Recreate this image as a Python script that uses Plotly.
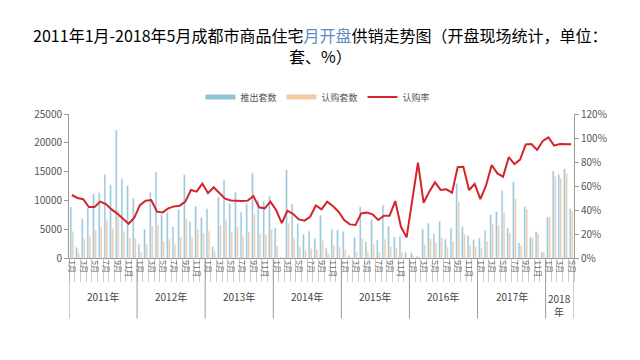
import plotly.graph_objects as go

# ---------------- data ----------------
years = ["2011年", "2012年", "2013年", "2014年", "2015年", "2016年", "2017年", "2018<br>年"]
months_per_year = [12, 12, 12, 12, 12, 12, 12, 5]

# 推出套数 (supply)
supply = [
    8850, 1800, 6850, 8700, 11150, 11330, 14500, 12700, 22200, 13750, 12550, 10400,   # 2011
    2400, 5000, 11400, 14900, 7500, 7900, 5400, 8400, 14450, 6300, 9000, 7000,        # 2012
    8570, 1950, 10570, 13560, 9430, 11430, 7990, 9430, 14710, 10000, 9830, 10690,     # 2013
    5200, 150, 15290, 9310, 5980, 4140, 4650, 3390, 7400, 1700, 5000, 4850,           # 2014
    4650, 500, 3600, 8870, 2840, 6640, 3080, 9170, 5550, 3650, 3820, 980,             # 2015
    880, 250, 5000, 6030, 4200, 6320, 3280, 5170, 12930, 5460, 3850, 3160,            # 2016
    3450, 4770, 7470, 8050, 11670, 5170, 13220, 2590, 8900, 3620, 4600, 1030,         # 2017
    7070, 15060, 14480, 15460, 8570,                                                  # 2018
]

# 认购套数 (subscribed)
subscribed = [
    4600, 900, 3300, 3700, 4800, 5300, 6500, 5100, 8200, 4600, 3500, 3400,
    1060, 2390, 5500, 5750, 2850, 3270, 2320, 3660, 6790, 3570, 4980, 4340,
    4630, 1150, 5710, 6700, 4530, 5420, 3790, 4510, 7600, 4220, 4070, 5020,
    2080, 45, 6020, 3420, 1930, 1290, 1600, 1480, 3000, 800, 2170, 1870,
    1470, 140, 990, 3300, 1070, 2420, 980, 3240, 1960, 1730, 990, 170,
    420, 200, 2300, 3330, 2650, 3580, 1880, 2810, 9770, 4150, 2180, 1950,
    1690, 2890, 5790, 5680, 7910, 4340, 10350, 2120, 8430, 3440, 4140, 1000,
    7100, 14100, 13760, 14690, 8120,
]

# 认购率 (%)
rate = [
    52.5, 50, 49, 42.5, 42.5, 47, 45, 40.5, 37, 33, 28.5, 33.5,
    44, 47.8, 48.3, 38.6, 38, 41.4, 43, 43.6, 47, 56.7, 55.3, 62,
    54, 59, 54, 49.4, 48, 47.4, 47.4, 47.8, 51.7, 42.2, 41.4, 47,
    40, 29, 39.4, 36.7, 32.2, 31.1, 34.4, 43.8, 40.5, 47, 43.3, 38.6,
    31.7, 28, 27.5, 37.2, 37.8, 36.4, 31.7, 35.3, 35.3, 47.5, 26, 17.2,
    48, 79.4, 46, 55.3, 63, 56.7, 57.2, 54.4, 75.6, 76, 56.7, 61.7,
    49, 60.5, 77.5, 70.5, 67.8, 84, 78.3, 82, 94.7, 95, 90, 97.5,
    100.5, 93.6, 95, 95, 94.7,
]

left_ticks = [0, 5000, 10000, 15000, 20000, 25000]
right_ticks = [0, 20, 40, 60, 80, 100, 120]

# ---------------- derived positions ----------------
month_num = []
for n in months_per_year:
    month_num += list(range(1, n + 1))
idx = list(range(len(month_num)))
label_idx = [i for i, m in zip(idx, month_num) if m % 2 == 1]
label_txt = [f"{month_num[i]}月" for i in label_idx]

bounds = [-0.5]
for n in months_per_year:
    bounds.append(bounds[-1] + n)
centers = [(bounds[k] + bounds[k + 1]) / 2 for k in range(len(years))]

BLUE = "#8fc4d7"
ORANGE = "#f3c9a0"
RED = "#d4242b"
GREY = "#555555"
AXIS = "#9a9a9a"
FONT = "Noto Sans CJK SC"

fig = go.Figure()
fig.add_trace(go.Bar(x=idx, y=supply, name="推出套数", marker_color=BLUE, showlegend=False))
fig.add_trace(go.Bar(x=idx, y=subscribed, name="认购套数", marker_color=ORANGE, showlegend=False))
fig.add_trace(go.Scatter(x=idx, y=rate, name="认购率", yaxis="y2", mode="lines",
                         line=dict(color=RED, width=2), showlegend=False))
# legend entries
fig.add_trace(go.Scatter(x=[None], y=[None], name="推出套数", mode="lines",
                         line=dict(color=BLUE, width=5)))
fig.add_trace(go.Scatter(x=[None], y=[None], name="认购套数", mode="lines",
                         line=dict(color=ORANGE, width=5)))
fig.add_trace(go.Scatter(x=[None], y=[None], name="认购率", mode="lines",
                         line=dict(color=RED, width=2)))

shapes = []
for b in bounds:
    shapes.append(dict(type="line", xref="x", yref="paper", x0=b, x1=b, y0=0, y1=-0.42,
                       line=dict(color=AXIS, width=1)))

annotations = []
for c, t in zip(centers, years):
    annotations.append(dict(x=c, y=-0.27, xref="x", yref="paper", text=t, showarrow=False,
                            yanchor="top" if "<br>" in t else "middle",
                            font=dict(size=10, color="#444", family=FONT)))
annotations[-1]["y"] = -0.215

fig.update_layout(
    width=640, height=360,
    margin=dict(l=61, r=74, t=106, b=110),
    paper_bgcolor="white", plot_bgcolor="white",
    font=dict(family=FONT, color=GREY),
    title=dict(
        text="2011年1月-2018年5月成都市商品住宅<span style='color:#5c8cc4'>月开盘</span>供销走势图（开盘现场统计，单位：<br>套、%）",
        x=0.488, xanchor="center", y=0.905, yanchor="top",
        font=dict(size=16, color="#000", family=FONT),
    ),
    barmode="group", bargap=0.3, bargroupgap=0.15,
    legend=dict(orientation="h", x=0.493, xanchor="center", y=1.118, yanchor="middle",
                font=dict(size=9, color="#555"), itemwidth=30, tracegroupgap=0,
                bgcolor="rgba(0,0,0,0)"),
    xaxis=dict(range=[-0.5, len(idx) - 0.5], tickmode="array", tickvals=label_idx, ticktext=label_txt,
               tickangle=90, ticks="", showline=True, linecolor=AXIS, showgrid=False, zeroline=False,
               tickfont=dict(size=8, color="#666"),
               minor=dict(ticks="outside", tick0=-0.5, dtick=1, ticklen=23, tickcolor="#cccccc", tickwidth=1)),
    yaxis=dict(range=[0, 25000], tickmode="array", tickvals=left_ticks,
               ticktext=[str(v) for v in left_ticks], showline=True, linecolor=AXIS, ticks="outside",
               ticklen=4, tickcolor=AXIS, showgrid=False, zeroline=False,
               tickfont=dict(size=10, color=GREY)),
    yaxis2=dict(range=[0, 120], tickmode="array", tickvals=right_ticks,
                ticktext=[f"{v}%" for v in right_ticks], overlaying="y", side="right",
                showline=True, linecolor=AXIS, ticks="outside", ticklen=4, tickcolor=AXIS,
                showgrid=False, zeroline=False, tickfont=dict(size=10, color=GREY)),
    shapes=shapes, annotations=annotations,
)

fig.write_html("out.html")
